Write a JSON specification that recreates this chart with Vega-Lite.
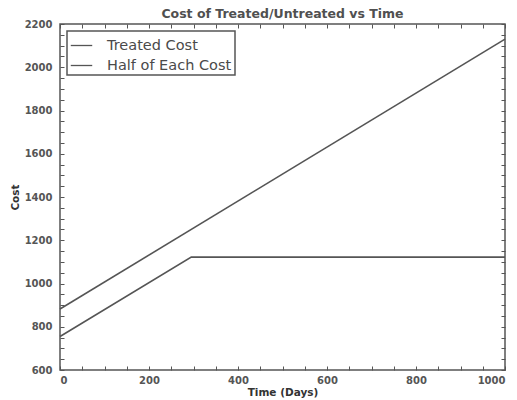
{
  "$schema": "https://vega.github.io/schema/vega-lite/v6.json",
  "width": 445,
  "height": 346,
  "autosize": "none",
  "padding": {"left": 60, "top": 24, "right": 12, "bottom": 30},
  "background": "white",
  "title": {
    "text": "Cost of Treated/Untreated vs Time",
    "fontSize": 12.5,
    "fontWeight": "bold",
    "font": "DejaVu Sans",
    "color": "#505050",
    "offset": -1
  },
  "config": {
    "view": {"stroke": "#555555", "strokeWidth": 1.5},
    "axis": {
      "domain": false,
      "grid": false,
      "tickColor": "#555555",
      "tickSize": -4,
      "labelFont": "DejaVu Sans",
      "labelFontSize": 10,
      "labelFontWeight": "bold",
      "labelColor": "#555555",
      "titleFont": "DejaVu Sans",
      "titleFontSize": 10.5,
      "titleFontWeight": "bold",
      "titleColor": "#333333"
    }
  },
  "data": {
    "values": [
      {"day": 0, "cost": 882, "series": "Treated Cost"},
      {"day": 1000, "cost": 2130, "series": "Treated Cost"},
      {"day": 0, "cost": 755, "series": "Half of Each Cost"},
      {"day": 295, "cost": 1122, "series": "Half of Each Cost"},
      {"day": 1000, "cost": 1122, "series": "Half of Each Cost"}
    ]
  },
  "layer": [
    {
      "mark": {"type": "line", "strokeWidth": 1.6},
      "encoding": {
        "x": {
          "field": "day", "type": "quantitative",
          "scale": {"domain": [0, 1000], "nice": false},
          "axis": {
            "title": "Time (Days)",
            "values": [0,50,100,150,200,250,300,350,400,450,500,550,600,650,700,750,800,850,900,950,1000],
            "labelExpr": "datum.value % 200 == 0 ? datum.label : ''",
            "format": "d",
            "labelPadding": 9,
            "titleY": 17
          }
        },
        "y": {
          "field": "cost", "type": "quantitative",
          "scale": {"domain": [600, 2200], "nice": false, "zero": false},
          "axis": {
            "title": "Cost",
            "values": [600,650,700,750,800,850,900,950,1000,1050,1100,1150,1200,1250,1300,1350,1400,1450,1500,1550,1600,1650,1700,1750,1800,1850,1900,1950,2000,2050,2100,2150,2200],
            "labelExpr": "datum.value % 200 == 0 ? datum.label : ''",
            "format": "d",
            "labelPadding": 12,
            "titleX": -40
          }
        },
        "color": {
          "field": "series", "type": "nominal",
          "scale": {"domain": ["Treated Cost", "Half of Each Cost"], "range": ["#555555", "#555555"]},
          "legend": {
            "title": null,
            "orient": "top-left",
            "offset": 7,
            "symbolType": "stroke",
            "symbolSize": 460,
            "symbolStrokeWidth": 1.3,
            "labelFont": "DejaVu Sans",
            "labelFontSize": 14.5,
            "labelColor": "#4a4a4a",
            "labelOffset": 14,
            "rowPadding": 2,
            "strokeColor": "#555555",
            "padding": 3,
            "fillColor": "white",
            "encode": {"legend": {"update": {"strokeWidth": {"value": 1.5}}}}
          }
        }
      }
    },
    {
      "mark": {"type": "line", "opacity": 0},
      "encoding": {
        "x": {
          "field": "day", "type": "quantitative",
          "scale": {"domain": [0, 1000], "nice": false},
          "axis": {
            "orient": "top", "title": null, "labels": false,
            "values": [0,50,100,150,200,250,300,350,400,450,500,550,600,650,700,750,800,850,900,950,1000]
          }
        },
        "y": {
          "field": "cost", "type": "quantitative",
          "scale": {"domain": [600, 2200], "nice": false, "zero": false},
          "axis": {
            "orient": "right", "title": null, "labels": false,
            "values": [600,650,700,750,800,850,900,950,1000,1050,1100,1150,1200,1250,1300,1350,1400,1450,1500,1550,1600,1650,1700,1750,1800,1850,1900,1950,2000,2050,2100,2150,2200]
          }
        }
      }
    }
  ],
  "resolve": {"axis": {"x": "independent", "y": "independent"}}
}
